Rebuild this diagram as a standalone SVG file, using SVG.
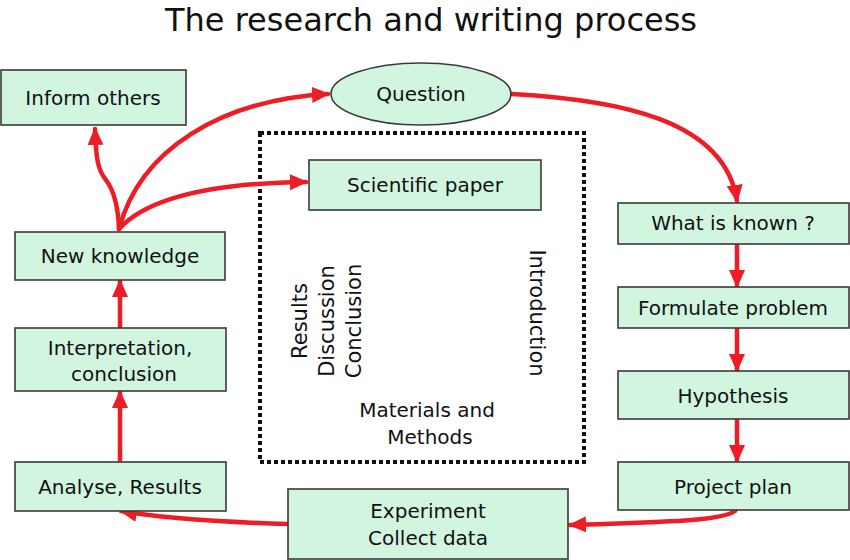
<svg xmlns="http://www.w3.org/2000/svg" width="850" height="560" viewBox="0 0 850 560">
<style>
.box{fill:#d2f5e0;stroke:#3a3a3a;stroke-width:1.6}
.t{font-family:"DejaVu Sans","Open Sans",sans-serif;font-size:20px;fill:#111;text-anchor:middle}
.v{font-size:21px}
.c{fill:none;stroke:#ee1c25;stroke-width:4.5;stroke-linecap:round}
</style>
<defs>
<marker id="ah" markerUnits="userSpaceOnUse" markerWidth="18" markerHeight="18" viewBox="0 0 18 18" refX="16" refY="9" orient="auto">
<path d="M0,1 L18,9 L0,17 Z" fill="#ee1c25"/>
</marker>
</defs>
<rect width="850" height="560" fill="#fff"/>
<text x="431" y="31" style="font-family:'DejaVu Sans','Open Sans',sans-serif;font-size:32px;fill:#111;text-anchor:middle">The research and writing process</text>

<g id="paperbox">
<rect x="260" y="133" width="324" height="329" fill="none" stroke="#111" stroke-width="4" stroke-dasharray="4,3"/>
<text class="t v" transform="translate(307,321) rotate(-90)">Results</text>
<text class="t v" transform="translate(334,321) rotate(-90)">Discussion</text>
<text class="t v" transform="translate(361,321) rotate(-90)">Conclusion</text>
<text class="t v" transform="translate(530,313) rotate(90)">Introduction</text>
<text class="t" x="427" y="417">Materials and</text>
<text class="t" x="430" y="444">Methods</text>
</g>

<g id="connectors">
<path class="c" d="M119,229 C118,200 112,188 106,180 C98,170 96,160 95,129" marker-end="url(#ah)"/>
<path class="c" d="M119,229 C140,150 220,100 328,94" marker-end="url(#ah)"/>
<path class="c" d="M119,229 C150,195 220,183 306,182" marker-end="url(#ah)"/>
<path class="c" d="M512,94 C620,100 725,120 737,201" marker-end="url(#ah)"/>
<path class="c" d="M737,244 L737,286" marker-end="url(#ah)"/>
<path class="c" d="M737,328 L737,370" marker-end="url(#ah)"/>
<path class="c" d="M737,419 L737,461" marker-end="url(#ah)"/>
<path class="c" d="M735,511 C720,522 650,522 570,525" marker-end="url(#ah)"/>
<path class="c" d="M288,524 C220,522 160,518 121,511" marker-end="url(#ah)"/>
<path class="c" d="M120,462 L120,392" marker-end="url(#ah)"/>
<path class="c" d="M120,328 L120,281" marker-end="url(#ah)"/>
</g>

<g id="inform"><rect class="box" x="1" y="70" width="185" height="55"/><text class="t" x="93" y="105">Inform others</text></g>
<g id="question"><ellipse cx="421" cy="94" rx="90" ry="31" fill="#d2f5e0" stroke="#3a3a3a" stroke-width="1.6"/><text class="t" x="421" y="101">Question</text></g>
<g id="paper"><rect class="box" x="309" y="160" width="232" height="50"/><text class="t" x="425" y="192">Scientific paper</text></g>
<g id="newknowledge"><rect class="box" x="15" y="232" width="210" height="48"/><text class="t" x="120" y="263">New knowledge</text></g>
<g id="interpretation"><rect class="box" x="15" y="328" width="211" height="63"/><text class="t" x="120" y="355">Interpretation,</text><text class="t" x="124" y="381">conclusion</text></g>
<g id="analyse"><rect class="box" x="15" y="462" width="211" height="49"/><text class="t" x="120" y="494">Analyse, Results</text></g>
<g id="experiment"><rect class="box" x="288" y="489" width="280" height="70"/><text class="t" x="428" y="518">Experiment</text><text class="t" x="428" y="545">Collect data</text></g>
<g id="known"><rect class="box" x="618" y="203" width="231" height="41"/><text class="t" x="733" y="230">What is known ?</text></g>
<g id="formulate"><rect class="box" x="618" y="287" width="231" height="41"/><text class="t" x="733" y="315">Formulate problem</text></g>
<g id="hypothesis"><rect class="box" x="618" y="371" width="231" height="48"/><text class="t" x="733" y="403">Hypothesis</text></g>
<g id="projectplan"><rect class="box" x="618" y="462" width="231" height="48"/><text class="t" x="733" y="494">Project plan</text></g>
</svg>
